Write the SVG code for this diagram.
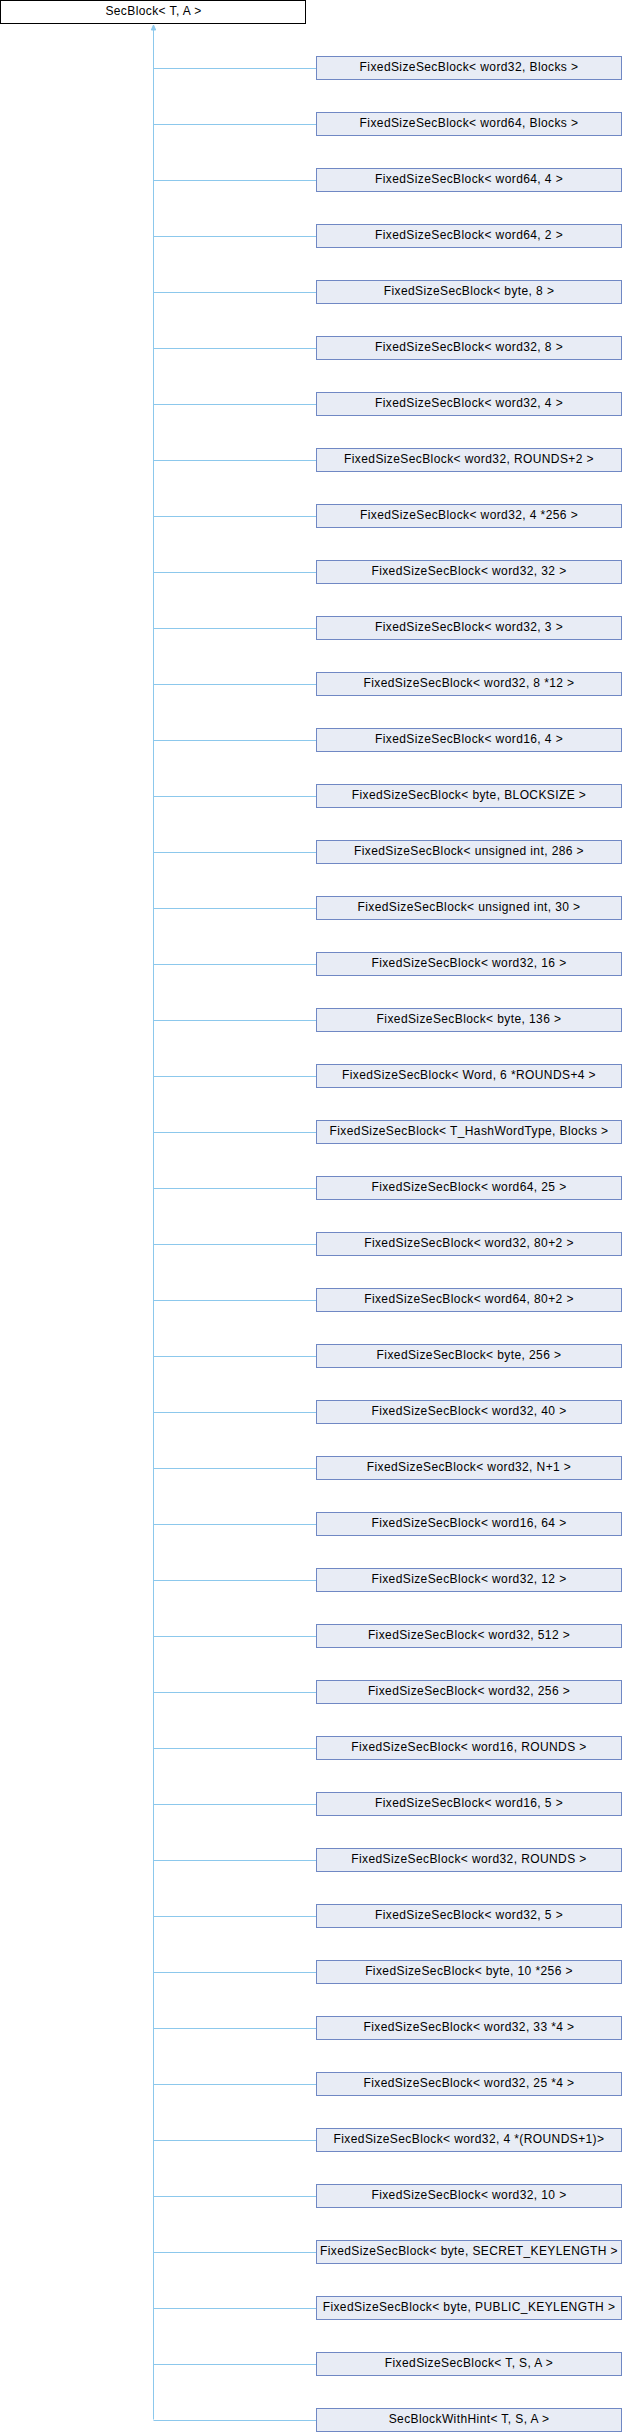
<svg xmlns="http://www.w3.org/2000/svg" width="622" height="2432" viewBox="0 0 622 2432">
<style>
.root{fill:#ffffff;stroke:#000000;stroke-width:1}
.box{fill:#e8ecf5;stroke:#7088c4;stroke-width:1}
.t{font-family:"Liberation Sans",Arial,sans-serif;font-size:12px;letter-spacing:0.4px;fill:#000000;text-anchor:middle}
.e{stroke:#8cc8ec;stroke-width:1;fill:none}
.ah{fill:#8cc8ec;stroke:#8cc8ec;stroke-width:1}
</style>
<defs>
<marker id="arr" markerWidth="8" markerHeight="8" refX="0" refY="3" orient="auto" markerUnits="userSpaceOnUse">
<path d="M0,3 L5,0.8 L5,5.2 Z" class="ah"/>
</marker>
</defs>
<g id="connectors">
<path class="e" d="M153.5,25 V2419.5" marker-start="url(#arr)"/>
<path class="e" d="M153.5,68.5 H316 M153.5,124.5 H316 M153.5,180.5 H316 M153.5,236.5 H316 M153.5,292.5 H316 M153.5,348.5 H316 M153.5,404.5 H316 M153.5,460.5 H316 M153.5,516.5 H316 M153.5,572.5 H316 M153.5,628.5 H316 M153.5,684.5 H316 M153.5,740.5 H316 M153.5,796.5 H316 M153.5,852.5 H316 M153.5,908.5 H316 M153.5,964.5 H316 M153.5,1020.5 H316 M153.5,1076.5 H316 M153.5,1132.5 H316 M153.5,1188.5 H316 M153.5,1244.5 H316 M153.5,1300.5 H316 M153.5,1356.5 H316 M153.5,1412.5 H316 M153.5,1468.5 H316 M153.5,1524.5 H316 M153.5,1580.5 H316 M153.5,1636.5 H316 M153.5,1692.5 H316 M153.5,1748.5 H316 M153.5,1804.5 H316 M153.5,1860.5 H316 M153.5,1916.5 H316 M153.5,1972.5 H316 M153.5,2028.5 H316 M153.5,2084.5 H316 M153.5,2140.5 H316 M153.5,2196.5 H316 M153.5,2252.5 H316 M153.5,2308.5 H316 M153.5,2364.5 H316 M153.5,2420.5 H316"/>
</g>
<g id="n_root"><rect class="root" x="0.5" y="0.5" width="305" height="23"/><text class="t" x="153.5" y="15">SecBlock&lt; T, A &gt;</text></g>
<g id="n1"><rect class="box" x="316.5" y="56.5" width="305" height="23"/><text class="t" x="469" y="71">FixedSizeSecBlock&lt; word32, Blocks &gt;</text></g>
<g id="n2"><rect class="box" x="316.5" y="112.5" width="305" height="23"/><text class="t" x="469" y="127">FixedSizeSecBlock&lt; word64, Blocks &gt;</text></g>
<g id="n3"><rect class="box" x="316.5" y="168.5" width="305" height="23"/><text class="t" x="469" y="183">FixedSizeSecBlock&lt; word64, 4 &gt;</text></g>
<g id="n4"><rect class="box" x="316.5" y="224.5" width="305" height="23"/><text class="t" x="469" y="239">FixedSizeSecBlock&lt; word64, 2 &gt;</text></g>
<g id="n5"><rect class="box" x="316.5" y="280.5" width="305" height="23"/><text class="t" x="469" y="295">FixedSizeSecBlock&lt; byte, 8 &gt;</text></g>
<g id="n6"><rect class="box" x="316.5" y="336.5" width="305" height="23"/><text class="t" x="469" y="351">FixedSizeSecBlock&lt; word32, 8 &gt;</text></g>
<g id="n7"><rect class="box" x="316.5" y="392.5" width="305" height="23"/><text class="t" x="469" y="407">FixedSizeSecBlock&lt; word32, 4 &gt;</text></g>
<g id="n8"><rect class="box" x="316.5" y="448.5" width="305" height="23"/><text class="t" x="469" y="463">FixedSizeSecBlock&lt; word32, ROUNDS+2 &gt;</text></g>
<g id="n9"><rect class="box" x="316.5" y="504.5" width="305" height="23"/><text class="t" x="469" y="519">FixedSizeSecBlock&lt; word32, 4 *256 &gt;</text></g>
<g id="n10"><rect class="box" x="316.5" y="560.5" width="305" height="23"/><text class="t" x="469" y="575">FixedSizeSecBlock&lt; word32, 32 &gt;</text></g>
<g id="n11"><rect class="box" x="316.5" y="616.5" width="305" height="23"/><text class="t" x="469" y="631">FixedSizeSecBlock&lt; word32, 3 &gt;</text></g>
<g id="n12"><rect class="box" x="316.5" y="672.5" width="305" height="23"/><text class="t" x="469" y="687">FixedSizeSecBlock&lt; word32, 8 *12 &gt;</text></g>
<g id="n13"><rect class="box" x="316.5" y="728.5" width="305" height="23"/><text class="t" x="469" y="743">FixedSizeSecBlock&lt; word16, 4 &gt;</text></g>
<g id="n14"><rect class="box" x="316.5" y="784.5" width="305" height="23"/><text class="t" x="469" y="799">FixedSizeSecBlock&lt; byte, BLOCKSIZE &gt;</text></g>
<g id="n15"><rect class="box" x="316.5" y="840.5" width="305" height="23"/><text class="t" x="469" y="855">FixedSizeSecBlock&lt; unsigned int, 286 &gt;</text></g>
<g id="n16"><rect class="box" x="316.5" y="896.5" width="305" height="23"/><text class="t" x="469" y="911">FixedSizeSecBlock&lt; unsigned int, 30 &gt;</text></g>
<g id="n17"><rect class="box" x="316.5" y="952.5" width="305" height="23"/><text class="t" x="469" y="967">FixedSizeSecBlock&lt; word32, 16 &gt;</text></g>
<g id="n18"><rect class="box" x="316.5" y="1008.5" width="305" height="23"/><text class="t" x="469" y="1023">FixedSizeSecBlock&lt; byte, 136 &gt;</text></g>
<g id="n19"><rect class="box" x="316.5" y="1064.5" width="305" height="23"/><text class="t" x="469" y="1079">FixedSizeSecBlock&lt; Word, 6 *ROUNDS+4 &gt;</text></g>
<g id="n20"><rect class="box" x="316.5" y="1120.5" width="305" height="23"/><text class="t" x="469" y="1135">FixedSizeSecBlock&lt; T_HashWordType, Blocks &gt;</text></g>
<g id="n21"><rect class="box" x="316.5" y="1176.5" width="305" height="23"/><text class="t" x="469" y="1191">FixedSizeSecBlock&lt; word64, 25 &gt;</text></g>
<g id="n22"><rect class="box" x="316.5" y="1232.5" width="305" height="23"/><text class="t" x="469" y="1247">FixedSizeSecBlock&lt; word32, 80+2 &gt;</text></g>
<g id="n23"><rect class="box" x="316.5" y="1288.5" width="305" height="23"/><text class="t" x="469" y="1303">FixedSizeSecBlock&lt; word64, 80+2 &gt;</text></g>
<g id="n24"><rect class="box" x="316.5" y="1344.5" width="305" height="23"/><text class="t" x="469" y="1359">FixedSizeSecBlock&lt; byte, 256 &gt;</text></g>
<g id="n25"><rect class="box" x="316.5" y="1400.5" width="305" height="23"/><text class="t" x="469" y="1415">FixedSizeSecBlock&lt; word32, 40 &gt;</text></g>
<g id="n26"><rect class="box" x="316.5" y="1456.5" width="305" height="23"/><text class="t" x="469" y="1471">FixedSizeSecBlock&lt; word32, N+1 &gt;</text></g>
<g id="n27"><rect class="box" x="316.5" y="1512.5" width="305" height="23"/><text class="t" x="469" y="1527">FixedSizeSecBlock&lt; word16, 64 &gt;</text></g>
<g id="n28"><rect class="box" x="316.5" y="1568.5" width="305" height="23"/><text class="t" x="469" y="1583">FixedSizeSecBlock&lt; word32, 12 &gt;</text></g>
<g id="n29"><rect class="box" x="316.5" y="1624.5" width="305" height="23"/><text class="t" x="469" y="1639">FixedSizeSecBlock&lt; word32, 512 &gt;</text></g>
<g id="n30"><rect class="box" x="316.5" y="1680.5" width="305" height="23"/><text class="t" x="469" y="1695">FixedSizeSecBlock&lt; word32, 256 &gt;</text></g>
<g id="n31"><rect class="box" x="316.5" y="1736.5" width="305" height="23"/><text class="t" x="469" y="1751">FixedSizeSecBlock&lt; word16, ROUNDS &gt;</text></g>
<g id="n32"><rect class="box" x="316.5" y="1792.5" width="305" height="23"/><text class="t" x="469" y="1807">FixedSizeSecBlock&lt; word16, 5 &gt;</text></g>
<g id="n33"><rect class="box" x="316.5" y="1848.5" width="305" height="23"/><text class="t" x="469" y="1863">FixedSizeSecBlock&lt; word32, ROUNDS &gt;</text></g>
<g id="n34"><rect class="box" x="316.5" y="1904.5" width="305" height="23"/><text class="t" x="469" y="1919">FixedSizeSecBlock&lt; word32, 5 &gt;</text></g>
<g id="n35"><rect class="box" x="316.5" y="1960.5" width="305" height="23"/><text class="t" x="469" y="1975">FixedSizeSecBlock&lt; byte, 10 *256 &gt;</text></g>
<g id="n36"><rect class="box" x="316.5" y="2016.5" width="305" height="23"/><text class="t" x="469" y="2031">FixedSizeSecBlock&lt; word32, 33 *4 &gt;</text></g>
<g id="n37"><rect class="box" x="316.5" y="2072.5" width="305" height="23"/><text class="t" x="469" y="2087">FixedSizeSecBlock&lt; word32, 25 *4 &gt;</text></g>
<g id="n38"><rect class="box" x="316.5" y="2128.5" width="305" height="23"/><text class="t" x="469" y="2143">FixedSizeSecBlock&lt; word32, 4 *(ROUNDS+1)&gt;</text></g>
<g id="n39"><rect class="box" x="316.5" y="2184.5" width="305" height="23"/><text class="t" x="469" y="2199">FixedSizeSecBlock&lt; word32, 10 &gt;</text></g>
<g id="n40"><rect class="box" x="316.5" y="2240.5" width="305" height="23"/><text class="t" x="469" y="2255">FixedSizeSecBlock&lt; byte, SECRET_KEYLENGTH &gt;</text></g>
<g id="n41"><rect class="box" x="316.5" y="2296.5" width="305" height="23"/><text class="t" x="469" y="2311">FixedSizeSecBlock&lt; byte, PUBLIC_KEYLENGTH &gt;</text></g>
<g id="n42"><rect class="box" x="316.5" y="2352.5" width="305" height="23"/><text class="t" x="469" y="2367">FixedSizeSecBlock&lt; T, S, A &gt;</text></g>
<g id="n43"><rect class="box" x="316.5" y="2408.5" width="305" height="23"/><text class="t" x="469" y="2423">SecBlockWithHint&lt; T, S, A &gt;</text></g>
</svg>
